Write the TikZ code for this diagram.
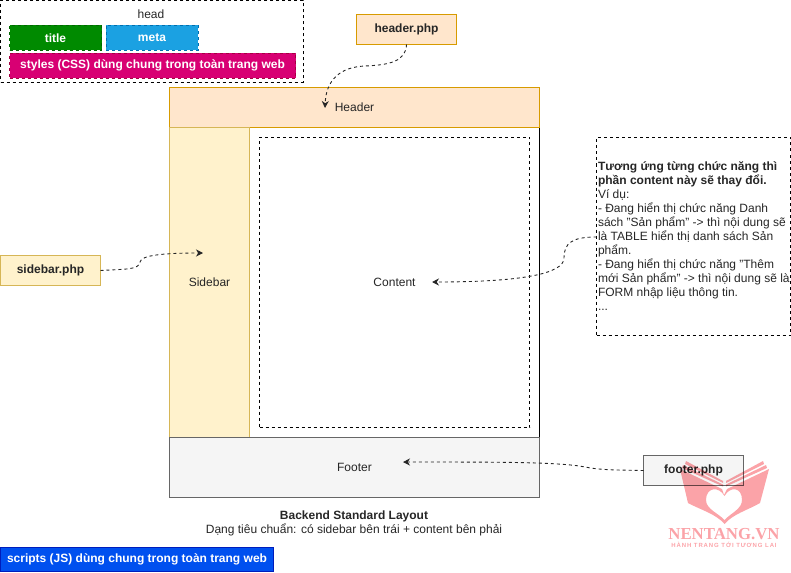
\documentclass[tikz,border=0pt]{standalone}
\usepackage{fontspec}
\setmainfont{Liberation Sans}
\newfontfamily\logofont{Liberation Serif}
\usetikzlibrary{arrows.meta}
\definecolor{headfill}{HTML}{FFE6CC}
\definecolor{headline}{HTML}{D79B00}
\definecolor{sidefill}{HTML}{FFF2CC}
\definecolor{sideline}{HTML}{D6B656}
\definecolor{footfill}{HTML}{F5F5F5}
\definecolor{footline}{HTML}{666666}
\definecolor{logopink}{HTML}{FBA3A8}
\tikzset{
  every node/.style={font=\fontsize{12}{14}\selectfont, text=black!85, inner sep=0pt, outer sep=0pt},
  part/.style={draw, line width=0.9pt, anchor=north west},
  dashline/.style={dash pattern=on 3pt off 3pt},
  phpfile/.style={part, minimum width=100pt, minimum height=30pt, font=\fontsize{12}{14}\selectfont\bfseries},
  tagbox/.style={part, text=white, font=\fontsize{12}{14}\selectfont\bfseries},
  guide/.style={dashline, line width=0.9pt, -{Stealth[length=7pt,width=7pt]}, black!85}
}
\begin{document}
\begin{tikzpicture}[x=1pt,y=-1pt]
			%%%%% START %%%%%
			\useasboundingbox (0, 0) rectangle (791, 572);

			% head block
			\node[part, dashline, minimum width=302.5pt, minimum height=81.5pt] (head) at (0.5, 0.5) {};
			\node (headtitle) at (151, 14) {head};
			\node[tagbox, draw=green!40!black, dashline, fill={rgb,255:red,0;green,138;blue,0}, minimum width=92pt, minimum height=25pt] (title) at (9.5, 25.5) {title};
			\node[tagbox, draw={rgb,255:red,0;green,110;blue,175}, dashline, fill={rgb,255:red,27;green,161;blue,226}, minimum width=92pt, minimum height=25pt] (meta) at (106, 25.5) {meta};
			\node[tagbox, draw={rgb,255:red,165;green,0;blue,64}, dashline, fill={rgb,255:red,216;green,0;blue,115}, minimum width=286pt, minimum height=25pt] (styles) at (9.5, 53) {styles (CSS) dùng chung trong toàn trang web};

			% page layout
			\node[part, minimum width=290pt, minimum height=310pt] (main) at (249.5, 127.5) {};
			\node[part, draw=headline, fill=headfill, minimum width=370pt, minimum height=40pt] (header) at (169.5, 87.5) {Header};
			\node[part, draw=sideline, fill=sidefill, minimum width=80pt, minimum height=310pt] (sidebar) at (169.5, 127.5) {Sidebar};
			\node[part, dashline, minimum width=270pt, minimum height=290pt] (content) at (259.5, 137.5) {Content};
			\node[part, draw=footline, fill=footfill, minimum width=370pt, minimum height=60pt] (footer) at (169.5, 437.5) {Footer};

			% php files
			\node[phpfile, draw=headline, fill=headfill] (headerphp) at (356.5, 14.5) {header.php};
			\node[phpfile, draw=sideline, fill=sidefill] (sidebarphp) at (0.5, 255.5) {sidebar.php};
			\node[phpfile, draw=footline, fill=footfill] (footerphp) at (643.5, 455.5) {footer.php};

			% note
			\node[part, dashline, minimum width=194pt, minimum height=198pt] (note) at (596.5, 137.5) {};
			\node[anchor=north west, align=left] (notetext) at (598, 162) {\textbf{Tương ứng từng chức năng thì}\\\textbf{phần content này sẽ thay đổi.}\\Ví dụ:\\- Đang hiển thị chức năng Danh\\sách "Sản phẩm" -> thì nội dung sẽ\\là TABLE hiển thị danh sách Sản\\phẩm.\\- Đang hiển thị chức năng "Thêm\\mới Sản phẩm" -> thì nội dung sẽ là\\FORM nhập liệu thông tin.\\...};

			% free ends
			\coordinate (headerend) at (325, 108);
			\coordinate (sidebarend) at (203, 253);
			\coordinate (contentend) at (432, 282);
			\coordinate (footerend) at (403, 462);

			\draw[guide] (headerphp.south) .. controls (406, 62) and (388, 65) .. (365, 66) .. controls (340, 67) and (326, 80) .. (headerend);
			\draw[guide] (sidebarphp.east) .. controls (125, 269) and (139, 270) .. (140, 262) .. controls (141, 255) and (165, 253) .. (sidebarend);
			\draw[guide] (note.west |- 0, 237) .. controls (572, 237) and (564, 243) .. (564, 258) .. controls (564, 274) and (520, 282) .. (contentend);
			\draw[guide] (footerphp.west) .. controls (615, 470) and (600, 470) .. (585, 467) .. controls (560, 462) and (500, 462) .. (footerend);

			% caption
			\node[font=\fontsize{12}{14}\selectfont\bfseries] (caption) at (354, 516) {Backend Standard Layout};
			\node (subcaption) at (354, 530) {Dạng tiêu chuẩn: có sidebar bên trái + content bên phải};

			% scripts
			\node[tagbox, draw={rgb,255:red,0;green,29;blue,188}, fill={rgb,255:red,0;green,80;blue,239}, minimum width=273pt, minimum height=24pt] (scripts) at (0.5, 547.5) {scripts (JS) dùng chung trong toàn trang web};

			% watermark
			\begin{scope}[blend mode=multiply]
			\fill[logopink, even odd rule] (680, 469) -- (722, 489) -- (724, 495) -- (727, 489) -- (769, 469) -- (760, 503) .. controls (748, 510) and (733, 514) .. (724.5, 524) .. controls (716, 514) and (701, 510) .. (688, 503) -- cycle
				(724.5, 496) .. controls (719, 486) and (706, 487) .. (706, 500) .. controls (706, 509) and (718, 513) .. (724.5, 520) .. controls (731, 513) and (742, 509) .. (742, 500) .. controls (742, 487) and (730, 486) .. (724.5, 496) -- cycle;
			\fill[logopink] (686, 461) -- (723, 481) -- (723, 483) -- (685, 464) -- cycle;
			\fill[logopink] (683, 465) -- (723, 484.5) -- (723, 486.5) -- (682, 468) -- cycle;
			\fill[logopink] (763, 461) -- (726, 481) -- (726, 483) -- (764, 464) -- cycle;
			\fill[logopink] (766, 465) -- (726, 484.5) -- (726, 486.5) -- (767, 468) -- cycle;
			\end{scope}
			\node[font=\logofont\fontsize{16.8}{17}\selectfont\bfseries, text=logopink] (logoname) at (724, 534) {NENTANG.VN};
			\node[font=\fontsize{6}{7}\selectfont\bfseries, text=logopink] (logotag) at (724, 545) {\addfontfeatures{LetterSpace=15}HÀNH TRANG TỚI TƯƠNG LAI};

			%%%%% END %%%%%
\end{tikzpicture}
\end{document}
